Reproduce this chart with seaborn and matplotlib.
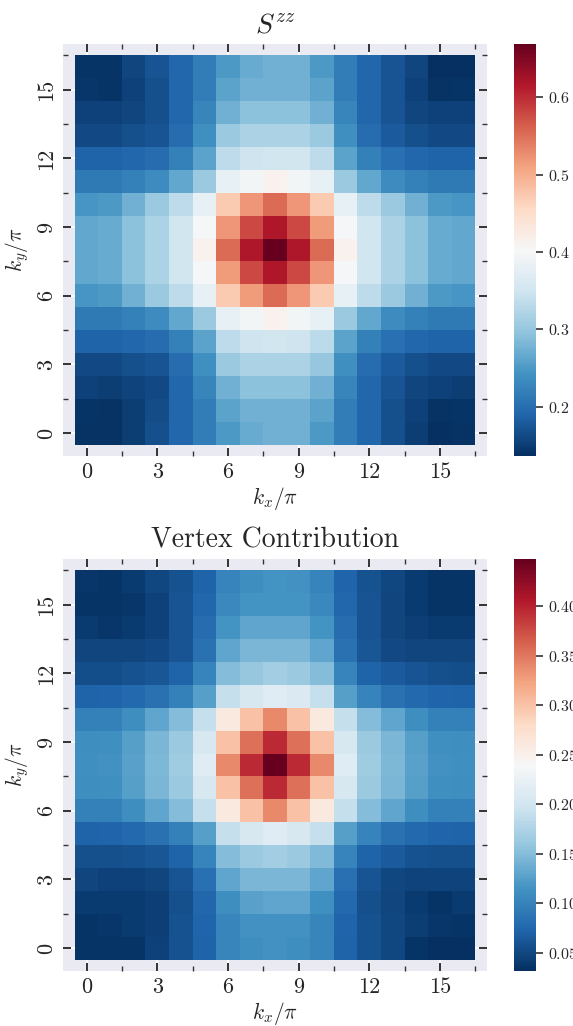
import numpy as np
import matplotlib
matplotlib.use("Agg")
import matplotlib.pyplot as plt
from matplotlib.ticker import MultipleLocator
import seaborn as sns

# Momentum grid (indices along k_x and k_y)
k_index = list(range(17))
major_ticks = [0, 3, 6, 9, 12, 15]
minor_ticks = [1.5, 4.5, 7.5, 10.5, 13.5, 16.5]

# S^zz structure factor, rows indexed by k_y (row 0 = k_y 0), columns by k_x
szz = [
    [0.140, 0.140, 0.150, 0.168, 0.192, 0.216, 0.250, 0.269, 0.274, 0.274, 0.250, 0.216, 0.192, 0.168, 0.150, 0.138, 0.140],
    [0.142, 0.140, 0.150, 0.165, 0.192, 0.216, 0.260, 0.274, 0.274, 0.274, 0.260, 0.216, 0.192, 0.168, 0.153, 0.140, 0.142],
    [0.153, 0.150, 0.155, 0.163, 0.192, 0.226, 0.274, 0.293, 0.293, 0.293, 0.274, 0.226, 0.192, 0.173, 0.158, 0.153, 0.150],
    [0.163, 0.163, 0.168, 0.173, 0.197, 0.240, 0.303, 0.318, 0.318, 0.318, 0.300, 0.240, 0.197, 0.178, 0.168, 0.163, 0.163],
    [0.187, 0.187, 0.192, 0.197, 0.221, 0.260, 0.332, 0.347, 0.351, 0.347, 0.330, 0.260, 0.221, 0.202, 0.192, 0.187, 0.187],
    [0.211, 0.211, 0.221, 0.235, 0.264, 0.303, 0.380, 0.395, 0.414, 0.395, 0.380, 0.303, 0.264, 0.235, 0.221, 0.211, 0.211],
    [0.245, 0.250, 0.274, 0.303, 0.332, 0.380, 0.472, 0.516, 0.554, 0.520, 0.472, 0.380, 0.332, 0.303, 0.274, 0.250, 0.245],
    [0.264, 0.269, 0.293, 0.318, 0.351, 0.400, 0.516, 0.578, 0.617, 0.578, 0.520, 0.400, 0.351, 0.318, 0.293, 0.269, 0.264],
    [0.264, 0.269, 0.293, 0.318, 0.351, 0.414, 0.554, 0.617, 0.669, 0.617, 0.554, 0.414, 0.351, 0.318, 0.293, 0.269, 0.264],
    [0.264, 0.269, 0.293, 0.318, 0.351, 0.400, 0.520, 0.578, 0.617, 0.578, 0.516, 0.400, 0.351, 0.318, 0.293, 0.269, 0.264],
    [0.245, 0.250, 0.274, 0.303, 0.332, 0.380, 0.472, 0.520, 0.554, 0.520, 0.472, 0.380, 0.332, 0.303, 0.274, 0.250, 0.245],
    [0.211, 0.211, 0.221, 0.235, 0.264, 0.303, 0.380, 0.395, 0.414, 0.395, 0.380, 0.303, 0.264, 0.235, 0.221, 0.211, 0.211],
    [0.187, 0.187, 0.192, 0.197, 0.221, 0.260, 0.332, 0.347, 0.351, 0.351, 0.332, 0.260, 0.221, 0.202, 0.192, 0.187, 0.187],
    [0.163, 0.163, 0.168, 0.173, 0.197, 0.240, 0.303, 0.318, 0.318, 0.318, 0.303, 0.240, 0.197, 0.178, 0.168, 0.163, 0.163],
    [0.153, 0.153, 0.158, 0.168, 0.192, 0.226, 0.274, 0.293, 0.293, 0.293, 0.274, 0.226, 0.192, 0.173, 0.158, 0.153, 0.153],
    [0.144, 0.142, 0.153, 0.168, 0.192, 0.216, 0.260, 0.274, 0.274, 0.274, 0.260, 0.216, 0.192, 0.173, 0.153, 0.140, 0.142],
    [0.142, 0.142, 0.158, 0.173, 0.192, 0.216, 0.250, 0.269, 0.274, 0.274, 0.250, 0.216, 0.192, 0.173, 0.158, 0.137, 0.136],
]

# Vertex contribution, same layout
vertex = [
    [0.035, 0.035, 0.036, 0.046, 0.058, 0.072, 0.102, 0.110, 0.113, 0.111, 0.102, 0.072, 0.058, 0.050, 0.035, 0.0315, 0.032],
    [0.036, 0.038, 0.040, 0.044, 0.058, 0.073, 0.102, 0.113, 0.113, 0.113, 0.102, 0.073, 0.058, 0.050, 0.042, 0.037, 0.035],
    [0.040, 0.040, 0.040, 0.043, 0.056, 0.075, 0.110, 0.127, 0.130, 0.130, 0.112, 0.076, 0.056, 0.048, 0.040, 0.036, 0.040],
    [0.048, 0.045, 0.046, 0.048, 0.060, 0.082, 0.130, 0.145, 0.145, 0.145, 0.130, 0.082, 0.060, 0.050, 0.047, 0.047, 0.047],
    [0.056, 0.056, 0.058, 0.062, 0.072, 0.100, 0.150, 0.162, 0.168, 0.162, 0.148, 0.100, 0.072, 0.065, 0.058, 0.056, 0.056],
    [0.072, 0.073, 0.077, 0.085, 0.097, 0.125, 0.190, 0.205, 0.215, 0.205, 0.190, 0.125, 0.100, 0.085, 0.077, 0.073, 0.072],
    [0.097, 0.098, 0.110, 0.130, 0.150, 0.190, 0.260, 0.300, 0.340, 0.300, 0.260, 0.190, 0.150, 0.130, 0.110, 0.098, 0.097],
    [0.110, 0.112, 0.125, 0.145, 0.162, 0.205, 0.300, 0.355, 0.395, 0.355, 0.300, 0.205, 0.162, 0.145, 0.125, 0.112, 0.110],
    [0.112, 0.113, 0.127, 0.147, 0.165, 0.215, 0.340, 0.395, 0.448, 0.395, 0.340, 0.215, 0.165, 0.147, 0.127, 0.113, 0.112],
    [0.110, 0.112, 0.125, 0.145, 0.162, 0.205, 0.300, 0.355, 0.395, 0.355, 0.300, 0.205, 0.162, 0.145, 0.125, 0.112, 0.110],
    [0.097, 0.098, 0.110, 0.130, 0.150, 0.190, 0.260, 0.300, 0.340, 0.300, 0.260, 0.190, 0.150, 0.130, 0.110, 0.098, 0.097],
    [0.072, 0.073, 0.076, 0.085, 0.098, 0.125, 0.190, 0.205, 0.215, 0.208, 0.190, 0.125, 0.100, 0.085, 0.077, 0.073, 0.072],
    [0.055, 0.055, 0.058, 0.062, 0.072, 0.100, 0.150, 0.160, 0.168, 0.162, 0.150, 0.100, 0.072, 0.065, 0.060, 0.056, 0.055],
    [0.048, 0.048, 0.048, 0.052, 0.060, 0.085, 0.130, 0.145, 0.145, 0.145, 0.130, 0.085, 0.062, 0.052, 0.048, 0.048, 0.048],
    [0.040, 0.038, 0.040, 0.045, 0.060, 0.080, 0.115, 0.130, 0.130, 0.130, 0.115, 0.080, 0.060, 0.048, 0.043, 0.040, 0.040],
    [0.036, 0.035, 0.038, 0.045, 0.060, 0.075, 0.105, 0.115, 0.115, 0.115, 0.105, 0.075, 0.060, 0.048, 0.040, 0.036, 0.036],
    [0.038, 0.036, 0.040, 0.050, 0.058, 0.072, 0.100, 0.110, 0.115, 0.113, 0.100, 0.073, 0.058, 0.050, 0.040, 0.036, 0.036],
]

titles = [r"$S^{zz}$", "Vertex Contribution"]
cbar_steps = [0.1, 0.05]

sns.set_theme(style="darkgrid")
plt.rcParams["font.family"] = ["cmr10", "DejaVu Serif"]
plt.rcParams["mathtext.fontset"] = "cm"
plt.rcParams["axes.formatter.use_mathtext"] = True
plt.rcParams["axes.unicode_minus"] = False

W, H = 573, 1026
fig = plt.figure(figsize=(W / 100, H / 100), dpi=100)

panel_tops = [44, 559]
panel_h = 412
ax_left, ax_right = 63, 487
cb_left, cb_w = 514, 22

text_color = "#262626"

for data, title, step, top in zip([szz, vertex], titles, cbar_steps, panel_tops):
    bottom = H - top - panel_h
    ax = fig.add_axes([ax_left / W, bottom / H, (ax_right - ax_left) / W, panel_h / H])
    cax = fig.add_axes([cb_left / W, bottom / H, cb_w / W, panel_h / H])

    sns.heatmap(np.array(data), cmap="RdBu_r", ax=ax, cbar_ax=cax,
                xticklabels=False, yticklabels=False)

    # cells sit on [i, i+1]; leave half a cell of margin around them
    ax.set_xlim(-0.5, 17.5)
    ax.set_ylim(-0.5, 17.5)
    ax.set_facecolor("#EAEAF2")

    ax.set_xticks([t + 0.5 for t in major_ticks])
    ax.set_xticklabels([str(t) for t in major_ticks])
    ax.set_yticks([t + 0.5 for t in major_ticks])
    ax.set_yticklabels([str(t) for t in major_ticks], rotation=90, va="center")
    ax.set_xticks([t + 0.5 for t in minor_ticks], minor=True)
    ax.set_yticks([t + 0.5 for t in minor_ticks], minor=True)

    ax.grid(True, which="major", color="white", linewidth=1.2)
    ax.grid(False, which="minor")
    ax.set_axisbelow(True)
    for sp in ax.spines.values():
        sp.set_visible(False)

    ax.tick_params(which="both", direction="in", top=True, bottom=True,
                   left=True, right=True, color="#333333", labelcolor=text_color)
    ax.tick_params(which="major", length=5.5, width=1.4, labelsize=16, pad=5)
    ax.tick_params(which="minor", length=3.5, width=1.0)

    ax.set_xlabel(r"$k_x/\pi$", fontsize=15.5, color=text_color, labelpad=1.5)
    ax.set_ylabel(r"$k_y/\pi$", fontsize=15.5, color=text_color, labelpad=4)
    ax.set_title(title, fontsize=20, color=text_color, pad=8)

    cax.yaxis.set_major_locator(MultipleLocator(step))
    cax.tick_params(which="major", right=True, left=False, length=5, width=1.2,
                    color="#333333", labelsize=11.5, labelcolor=text_color, pad=3.5)

fig.savefig("out.png", dpi=100)
